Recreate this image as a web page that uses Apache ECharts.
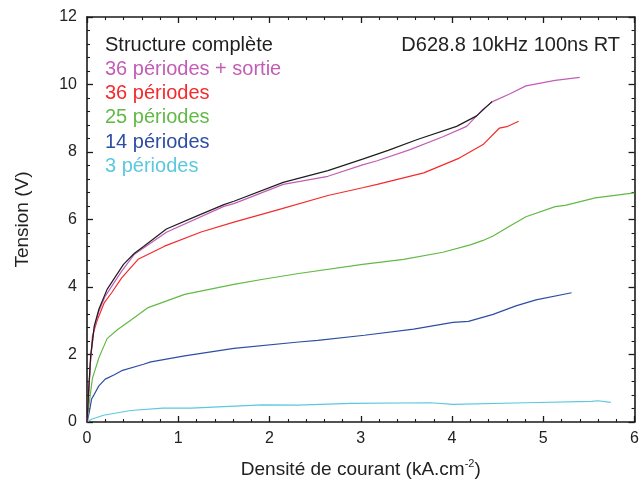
<!DOCTYPE html>
<html lang="fr">

<head>
    <meta charset="UTF-8">
    <title>D628.8 10kHz 100ns RT</title>
    <script src="https://cdn.jsdelivr.net/npm/echarts@6/dist/echarts.min.js"></script>
    <style>
        html, body { margin: 0; padding: 0; background: #fff; }
        #chart { width: 642px; height: 484px; }
    </style>
</head>

<body>
    <div id="chart"></div>
    <script>
        // donnees : [densite kA/cm2, tension V]
        var structureComplete = [[0, 0], [0.015, 0.78], [0.04, 1.96], [0.08, 2.85], [0.13, 3.34], [0.22, 3.93], [0.40, 4.67],
            [0.52, 5.0], [0.62, 5.2], [0.87, 5.72], [1.2, 6.1], [1.5, 6.44], [1.61, 6.54], [2.15, 7.10], [2.64, 7.45],
            [3.02, 7.79], [3.3, 8.05], [3.62, 8.37], [4.05, 8.76], [4.27, 9.07], [4.44, 9.50]];
        var p36Sortie = [[0, 0], [0.015, 0.7], [0.04, 1.9], [0.08, 2.8], [0.13, 3.28], [0.20, 3.73], [0.38, 4.47], [0.52, 4.97],
            [0.87, 5.62], [1.5, 6.39], [1.61, 6.47], [2.15, 7.04], [2.64, 7.28], [3.02, 7.62], [3.18, 7.74], [3.54, 8.07],
            [3.9, 8.45], [4.16, 8.76], [4.34, 9.27], [4.45, 9.50], [4.63, 9.72], [4.81, 9.96], [5.13, 10.12], [5.40, 10.21]];
        var p36 = [[0, 0], [0.035, 1.66], [0.06, 2.55], [0.115, 3.04], [0.19, 3.54], [0.27, 3.83], [0.38, 4.27], [0.56, 4.82],
            [0.85, 5.21], [1.25, 5.63], [1.61, 5.92], [2.08, 6.28], [2.64, 6.71], [3.02, 6.94], [3.18, 7.04], [3.69, 7.38],
            [4.08, 7.82], [4.34, 8.22], [4.52, 8.71], [4.6, 8.75], [4.73, 8.91]];
        var p25 = [[0, 0], [0.025, 0.58], [0.06, 1.3], [0.13, 1.9], [0.22, 2.47], [0.34, 2.75], [0.49, 3.04], [0.67, 3.39],
            [1.07, 3.78], [1.61, 4.08], [1.93, 4.23], [2.32, 4.40], [3.02, 4.67], [3.47, 4.82], [3.90, 5.03], [4.2, 5.25],
            [4.34, 5.38], [4.45, 5.51], [4.63, 5.80], [4.81, 6.08], [5.13, 6.38], [5.24, 6.42], [5.57, 6.64], [6.0, 6.79]];
        var p14 = [[0, 0], [0.025, 0.29], [0.05, 0.68], [0.08, 0.82], [0.13, 1.07], [0.20, 1.27], [0.30, 1.40], [0.38, 1.52],
            [0.62, 1.71], [0.70, 1.78], [1.07, 1.96], [1.61, 2.18], [2.32, 2.37], [2.53, 2.42], [3.04, 2.57], [3.58, 2.75],
            [4.01, 2.95], [4.18, 2.98], [4.45, 3.19], [4.70, 3.44], [4.92, 3.62], [5.31, 3.83]];
        var p3 = [[0, 0], [0.05, 0.08], [0.18, 0.2], [0.48, 0.34], [0.83, 0.41], [1.14, 0.41], [1.92, 0.51], [2.31, 0.50],
            [2.89, 0.55], [3.76, 0.57], [4.01, 0.52], [4.81, 0.57], [5.53, 0.61], [5.60, 0.63], [5.74, 0.58]];

        var noms = ['Structure complète', '36 périodes + sortie', '36 périodes', '25 périodes', '14 périodes', '3 périodes'];
        var couleurs = ['#1e1e1e', '#c35cb6', '#f42b2b', '#62b946', '#2d4ea3', '#5cc8de'];
        var series_data = [structureComplete, p36Sortie, p36, p25, p14, p3];

        var axisColor = '#1a1a1a';
        var police = '"Liberation Sans", Arial, sans-serif';
        var chart = echarts.init(document.getElementById('chart'));

        var series = [];
        for (var i = 0; i < series_data.length; i++) {
            series.push({
                name: noms[i],
                type: 'line',
                data: series_data[i],
                symbol: 'none',
                smooth: false,
                lineStyle: { color: couleurs[i], width: 1.2 },
                z: 10 - i
            });
        }

        // legende ecrite dans le cadre, comme sur l'original
        var graphics = [];
        for (var j = 0; j < noms.length; j++) {
            graphics.push({
                type: 'text',
                left: 105,
                top: 35 + j * 24.3,
                style: { text: noms[j], fill: couleurs[j], font: '20px ' + police }
            });
        }
        graphics.push({
            type: 'text',
            right: 22,
            top: 35,
            style: { text: 'D628.8 10kHz 100ns RT', fill: '#222', font: '20px ' + police }
        });

        var tickCommon = {
            axisLine: { show: true, onZero: false, lineStyle: { color: axisColor, width: 1.6 } },
            axisTick: { show: true, inside: true, length: 6, lineStyle: { color: axisColor, width: 1.3 } },
            minorTick: { show: true, splitNumber: 5, length: 3, lineStyle: { color: axisColor, width: 1.1 } },
            splitLine: { show: false },
            minorSplitLine: { show: false }
        };

        chart.setOption({
            animation: false,
            textStyle: { fontFamily: police },
            grid: { left: 87, right: 3, top: 17, bottom: 61 },
            graphic: graphics,
            xAxis: [Object.assign({
                type: 'value',
                position: 'bottom',
                min: 0,
                max: 6,
                interval: 1,
                name: '{n|Densité de courant (kA.cm}{s|-2}{n|)}',
                nameLocation: 'middle',
                nameGap: 36,
                nameTextStyle: {
                    rich: {
                        n: { fontSize: 19, color: '#222' },
                        s: { fontSize: 11, color: '#222', verticalAlign: 'bottom', padding: [0, 0, 12, 0] }
                    }
                },
                axisLabel: { fontSize: 16, color: '#222', margin: 9 }
            }, tickCommon), Object.assign({
                type: 'value',
                position: 'top',
                min: 0,
                max: 6,
                interval: 1,
                axisLabel: { show: false }
            }, tickCommon)],
            yAxis: [Object.assign({
                type: 'value',
                position: 'left',
                min: 0,
                max: 12,
                interval: 2,
                name: 'Tension (V)',
                nameLocation: 'middle',
                nameGap: 55,
                nameTextStyle: { fontSize: 19, color: '#222' },
                axisLabel: { fontSize: 16, color: '#222', margin: 10 }
            }, tickCommon), Object.assign({
                type: 'value',
                position: 'right',
                min: 0,
                max: 12,
                interval: 2,
                axisLabel: { show: false }
            }, tickCommon)],
            series: series
        });
    </script>
</body>

</html>
